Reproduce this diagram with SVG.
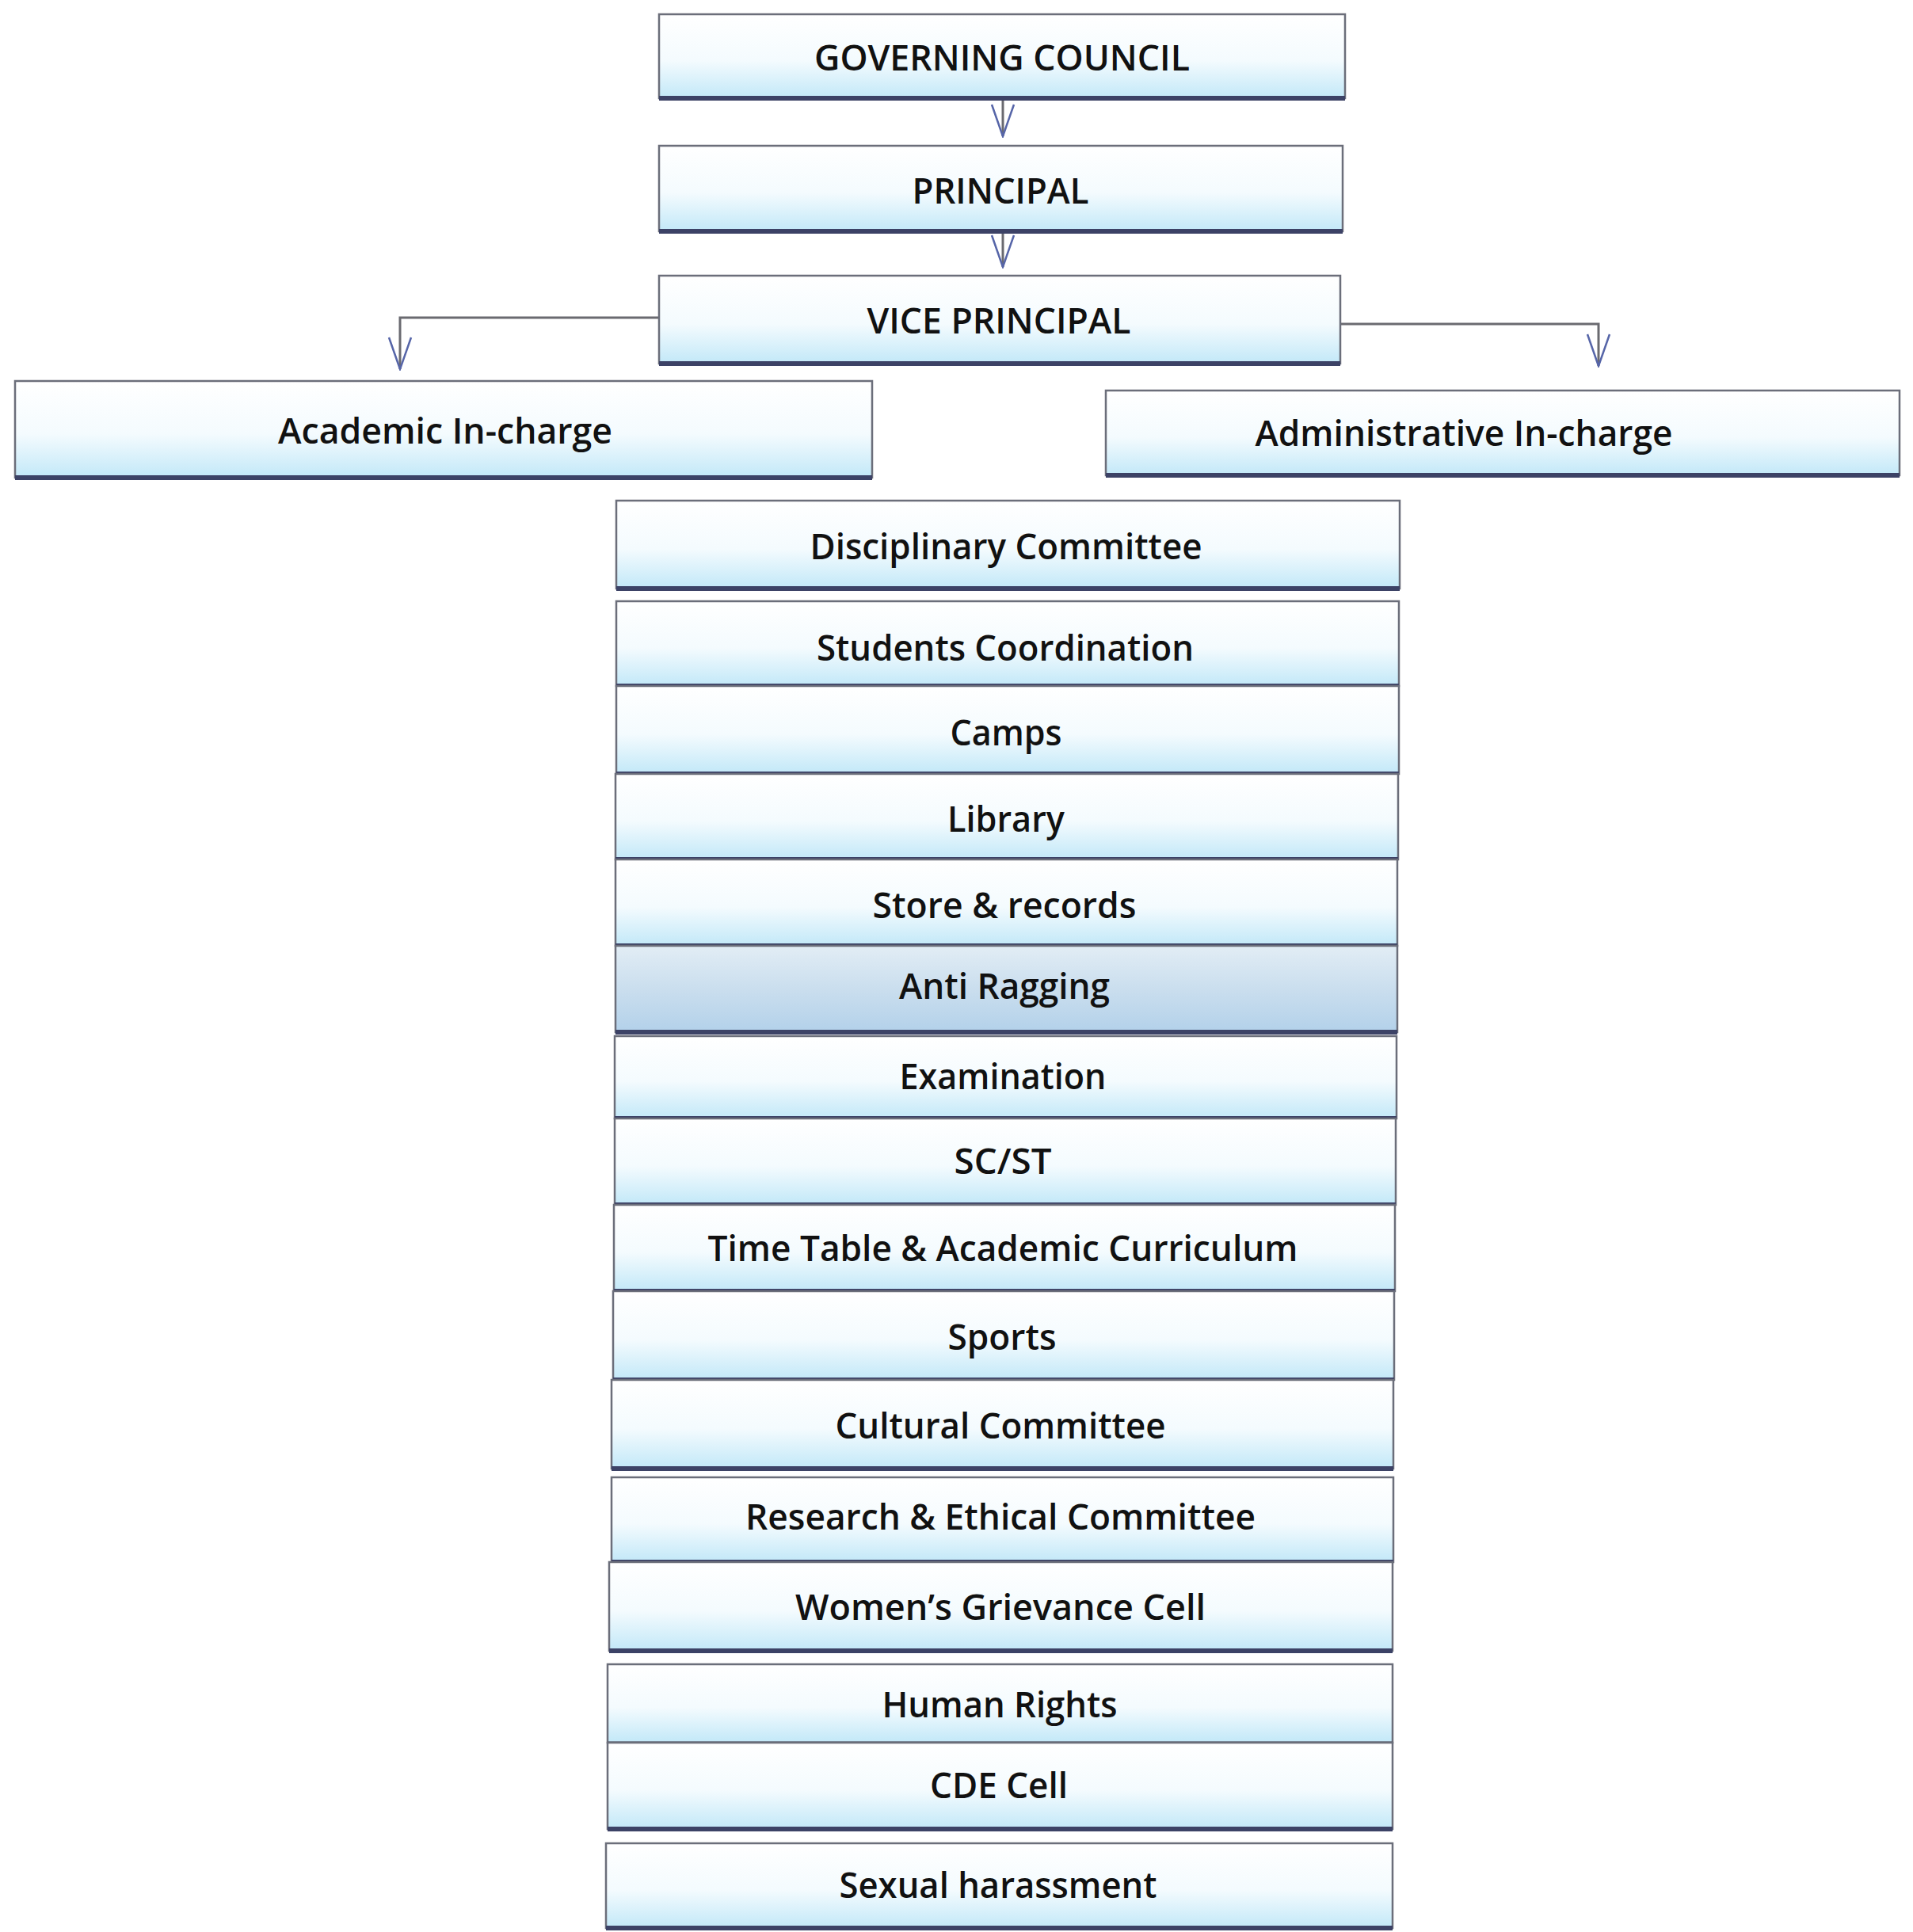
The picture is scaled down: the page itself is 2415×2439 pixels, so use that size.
<svg xmlns="http://www.w3.org/2000/svg" width="2415" height="2439" viewBox="0 0 2415 2439">
<defs>
<linearGradient id="g" x1="0" y1="0" x2="0" y2="1">
<stop offset="0" stop-color="#ffffff"/>
<stop offset="0.55" stop-color="#f4fbfe"/>
<stop offset="1" stop-color="#c2e8f8"/>
</linearGradient>
<linearGradient id="g2" x1="0" y1="0" x2="0" y2="1">
<stop offset="0" stop-color="#e2edf5"/>
<stop offset="0.5" stop-color="#cadeee"/>
<stop offset="1" stop-color="#b3d1ea"/>
</linearGradient>
<marker id="ah" markerWidth="44" markerHeight="32" refX="42" refY="16" orient="auto" markerUnits="userSpaceOnUse" viewBox="0 0 44 32">
<path d="M2 2 L42 16 L2 30" fill="none" stroke="#5665a8" stroke-width="2.5"/>
</marker>
</defs>
<style>
.box{fill:url(#g);stroke:#6b6e7a;stroke-width:2.5}
.box2{fill:url(#g2);stroke:#6b6e7a;stroke-width:2.5}
.bot{stroke:#3c4266;stroke-width:6}
.t{font-family:"Open Sans","Noto Sans","Liberation Sans",sans-serif;font-size:46px;font-weight:600;fill:#111;text-anchor:middle}
.c{fill:none;stroke:#6a6a70;stroke-width:3}
</style>
<rect width="2415" height="2439" fill="#ffffff"/>
<g id="connectors">
<path class="c" d="M1266 124 V172" marker-end="url(#ah)"/>
<path class="c" d="M1266 292 V337" marker-end="url(#ah)"/>
<path class="c" d="M832 401 H505 V466" marker-end="url(#ah)"/>
<path class="c" d="M1692 409 H2018 V462" marker-end="url(#ah)"/>
</g>
<g id="governing-council"><rect class="box" x="832" y="18" width="866" height="106"/><line class="bot" x1="832" y1="124" x2="1698" y2="124"/><text class="t" x="1265" y="89" textLength="474" lengthAdjust="spacingAndGlyphs">GOVERNING COUNCIL</text></g>
<g id="principal"><rect class="box" x="832" y="184" width="863" height="108"/><line class="bot" x1="832" y1="292" x2="1695" y2="292"/><text class="t" x="1263" y="257" textLength="223" lengthAdjust="spacingAndGlyphs">PRINCIPAL</text></g>
<g id="vice-principal"><rect class="box" x="832" y="348" width="860" height="111"/><line class="bot" x1="832" y1="459" x2="1692" y2="459"/><text class="t" x="1261" y="421" textLength="333" lengthAdjust="spacingAndGlyphs">VICE PRINCIPAL</text></g>
<g id="academic"><rect class="box" x="19" y="481" width="1082" height="122"/><line class="bot" x1="19" y1="603" x2="1101" y2="603"/><text class="t" x="562" y="560" textLength="422" lengthAdjust="spacingAndGlyphs">Academic In-charge</text></g>
<g id="administrative"><rect class="box" x="1396" y="493" width="1002" height="107"/><line class="bot" x1="1396" y1="600" x2="2398" y2="600"/><text class="t" x="1848" y="563" textLength="527" lengthAdjust="spacingAndGlyphs">Administrative In-charge</text></g>
<g id="disciplinary"><rect class="box" x="778" y="632" width="989" height="111"/><line class="bot" x1="778" y1="743" x2="1767" y2="743"/><text class="t" x="1270" y="706" textLength="495" lengthAdjust="spacingAndGlyphs">Disciplinary Committee</text></g>
<g id="students"><rect class="box" x="778" y="759" width="988" height="107"/><line class="bot" x1="778" y1="866" x2="1766" y2="866"/><text class="t" x="1269" y="834" textLength="476" lengthAdjust="spacingAndGlyphs">Students Coordination</text></g>
<g id="camps"><rect class="box" x="778" y="866" width="988" height="111"/><line class="bot" x1="778" y1="977" x2="1766" y2="977"/><text class="t" x="1270" y="941" textLength="141" lengthAdjust="spacingAndGlyphs">Camps</text></g>
<g id="library"><rect class="box" x="777" y="977" width="988" height="108"/><line class="bot" x1="777" y1="1085" x2="1765" y2="1085"/><text class="t" x="1270" y="1050" textLength="148" lengthAdjust="spacingAndGlyphs">Library</text></g>
<g id="store"><rect class="box" x="777" y="1085" width="987" height="109"/><line class="bot" x1="777" y1="1194" x2="1764" y2="1194"/><text class="t" x="1268" y="1159" textLength="333" lengthAdjust="spacingAndGlyphs">Store &amp; records</text></g>
<g id="anti-ragging"><rect class="box2" x="777" y="1194" width="987" height="109"/><line class="bot" x1="777" y1="1303" x2="1764" y2="1303"/><text class="t" x="1268" y="1261" textLength="266" lengthAdjust="spacingAndGlyphs">Anti Ragging</text></g>
<g id="examination"><rect class="box" x="776" y="1308" width="987" height="104"/><line class="bot" x1="776" y1="1412" x2="1763" y2="1412"/><text class="t" x="1266" y="1375" textLength="261" lengthAdjust="spacingAndGlyphs">Examination</text></g>
<g id="scst"><rect class="box" x="776" y="1412" width="986" height="109"/><line class="bot" x1="776" y1="1521" x2="1762" y2="1521"/><text class="t" x="1266" y="1482" textLength="123" lengthAdjust="spacingAndGlyphs">SC/ST</text></g>
<g id="timetable"><rect class="box" x="775" y="1521" width="986" height="109"/><line class="bot" x1="775" y1="1630" x2="1761" y2="1630"/><text class="t" x="1266" y="1592" textLength="745" lengthAdjust="spacingAndGlyphs">Time Table &amp; Academic Curriculum</text></g>
<g id="sports"><rect class="box" x="774" y="1630" width="986" height="112"/><line class="bot" x1="774" y1="1742" x2="1760" y2="1742"/><text class="t" x="1265" y="1704" textLength="137" lengthAdjust="spacingAndGlyphs">Sports</text></g>
<g id="cultural"><rect class="box" x="772" y="1742" width="987" height="112"/><line class="bot" x1="772" y1="1854" x2="1759" y2="1854"/><text class="t" x="1263" y="1816" textLength="417" lengthAdjust="spacingAndGlyphs">Cultural Committee</text></g>
<g id="research"><rect class="box" x="772" y="1865" width="987" height="107"/><line class="bot" x1="772" y1="1972" x2="1759" y2="1972"/><text class="t" x="1263" y="1931" textLength="644" lengthAdjust="spacingAndGlyphs">Research &amp; Ethical Committee</text></g>
<g id="womens"><rect class="box" x="769" y="1972" width="989" height="112"/><line class="bot" x1="769" y1="2084" x2="1758" y2="2084"/><text class="t" x="1263" y="2045" textLength="518" lengthAdjust="spacingAndGlyphs">Women’s Grievance Cell</text></g>
<g id="human-rights"><rect class="box" x="767" y="2101" width="991" height="99"/><line x1="767" y1="2200" x2="1758" y2="2200" stroke="#555a6a" stroke-width="3"/><text class="t" x="1262" y="2168" textLength="297" lengthAdjust="spacingAndGlyphs">Human Rights</text></g>
<g id="cde"><rect class="box" x="767" y="2200" width="991" height="109"/><line class="bot" x1="767" y1="2309" x2="1758" y2="2309"/><text class="t" x="1261" y="2270" textLength="174" lengthAdjust="spacingAndGlyphs">CDE Cell</text></g>
<g id="sexual"><rect class="box" x="765" y="2327" width="993" height="107"/><line class="bot" x1="765" y1="2434" x2="1758" y2="2434"/><text class="t" x="1260" y="2396" textLength="401" lengthAdjust="spacingAndGlyphs">Sexual harassment</text></g>
</svg>
